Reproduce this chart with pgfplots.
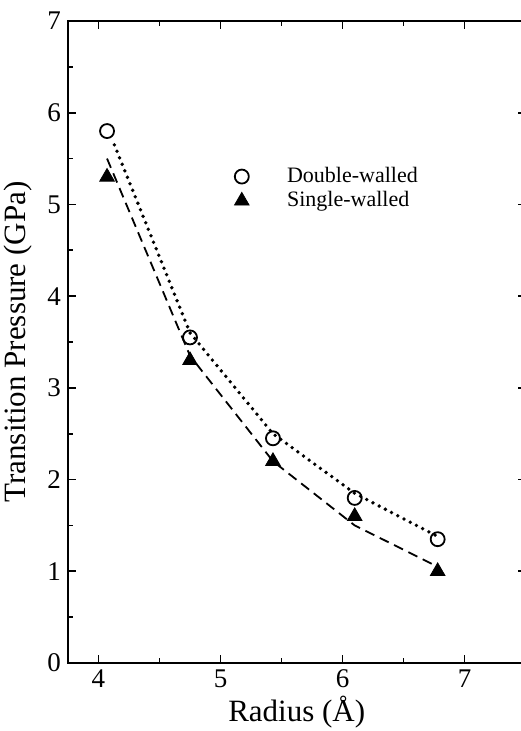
\documentclass[border=0pt]{standalone}
\usepackage{fontspec}
\setmainfont{Liberation Serif}
\usepackage{pgfplots}
\pgfplotsset{compat=1.18}
\begin{document}
\begin{tikzpicture}
\begin{axis}[
  scale only axis,
  width=228.75pt, height=321pt,
  anchor=south west, at={(0,0)},
  xmin=3.75, xmax=7.5, ymin=0, ymax=7,
  xtick={4,5,6,7}, ytick={0,1,2,3,4,5,6,7},
  minor x tick num=1, minor y tick num=1,
  tick align=inside,
  major tick length=4pt, minor tick length=2.5pt,
  every tick/.style={black, line width=0.8pt},
  axis line style={line width=1pt},
  /pgf/number format/assume math mode=true,
  ticklabel style={font=\fontsize{13.5}{16}\selectfont},
  xlabel={Radius (Å)},
  ylabel={Transition Pressure (GPa)},
  label style={font=\fontsize{15.5}{18}\selectfont},
  xlabel style={at={(axis description cs:0.5,-0.076)}, anchor=center},
  ylabel style={at={(axis description cs:-0.11,0.5)}, anchor=center},
  legend style={at={(axis description cs:0.35,0.785)}, anchor=north west, draw=none, fill=none,
    font=\fontsize{11}{13}\selectfont, row sep=-1pt},
  legend cell align=left,
]
\addplot[black, line width=1.9pt, dash pattern=on 0pt off 3.5pt, line cap=round, forget plot]
  coordinates {(4.13,5.65) (4.75,3.6) (5.43,2.5) (6.1,1.85) (6.78,1.38)};
\addplot[black, line width=0.9pt, dash pattern=on 5pt off 3pt, forget plot]
  coordinates {(4.07,5.5) (4.75,3.35) (5.43,2.2) (6.1,1.5) (6.78,1.05)};
\addplot[only marks, mark=o, mark size=3.5pt, mark options={black, line width=0.9pt}]
  coordinates {(4.07,5.8) (4.75,3.55) (5.43,2.45) (6.1,1.8) (6.78,1.35)};
\addlegendentry{\hspace{17pt}Double-walled}
\addplot[only marks, mark=triangle*, mark size=4.2pt, mark options={black, fill=black}]
  coordinates {(4.07,5.3) (4.75,3.3) (5.43,2.2) (6.1,1.6) (6.78,1.0)};
\addlegendentry{\hspace{17pt}Single-walled}
\end{axis}
\pgfresetboundingbox
\useasboundingbox (-34pt,-34pt) rectangle (226pt,331.5pt);
\end{tikzpicture}
\end{document}
